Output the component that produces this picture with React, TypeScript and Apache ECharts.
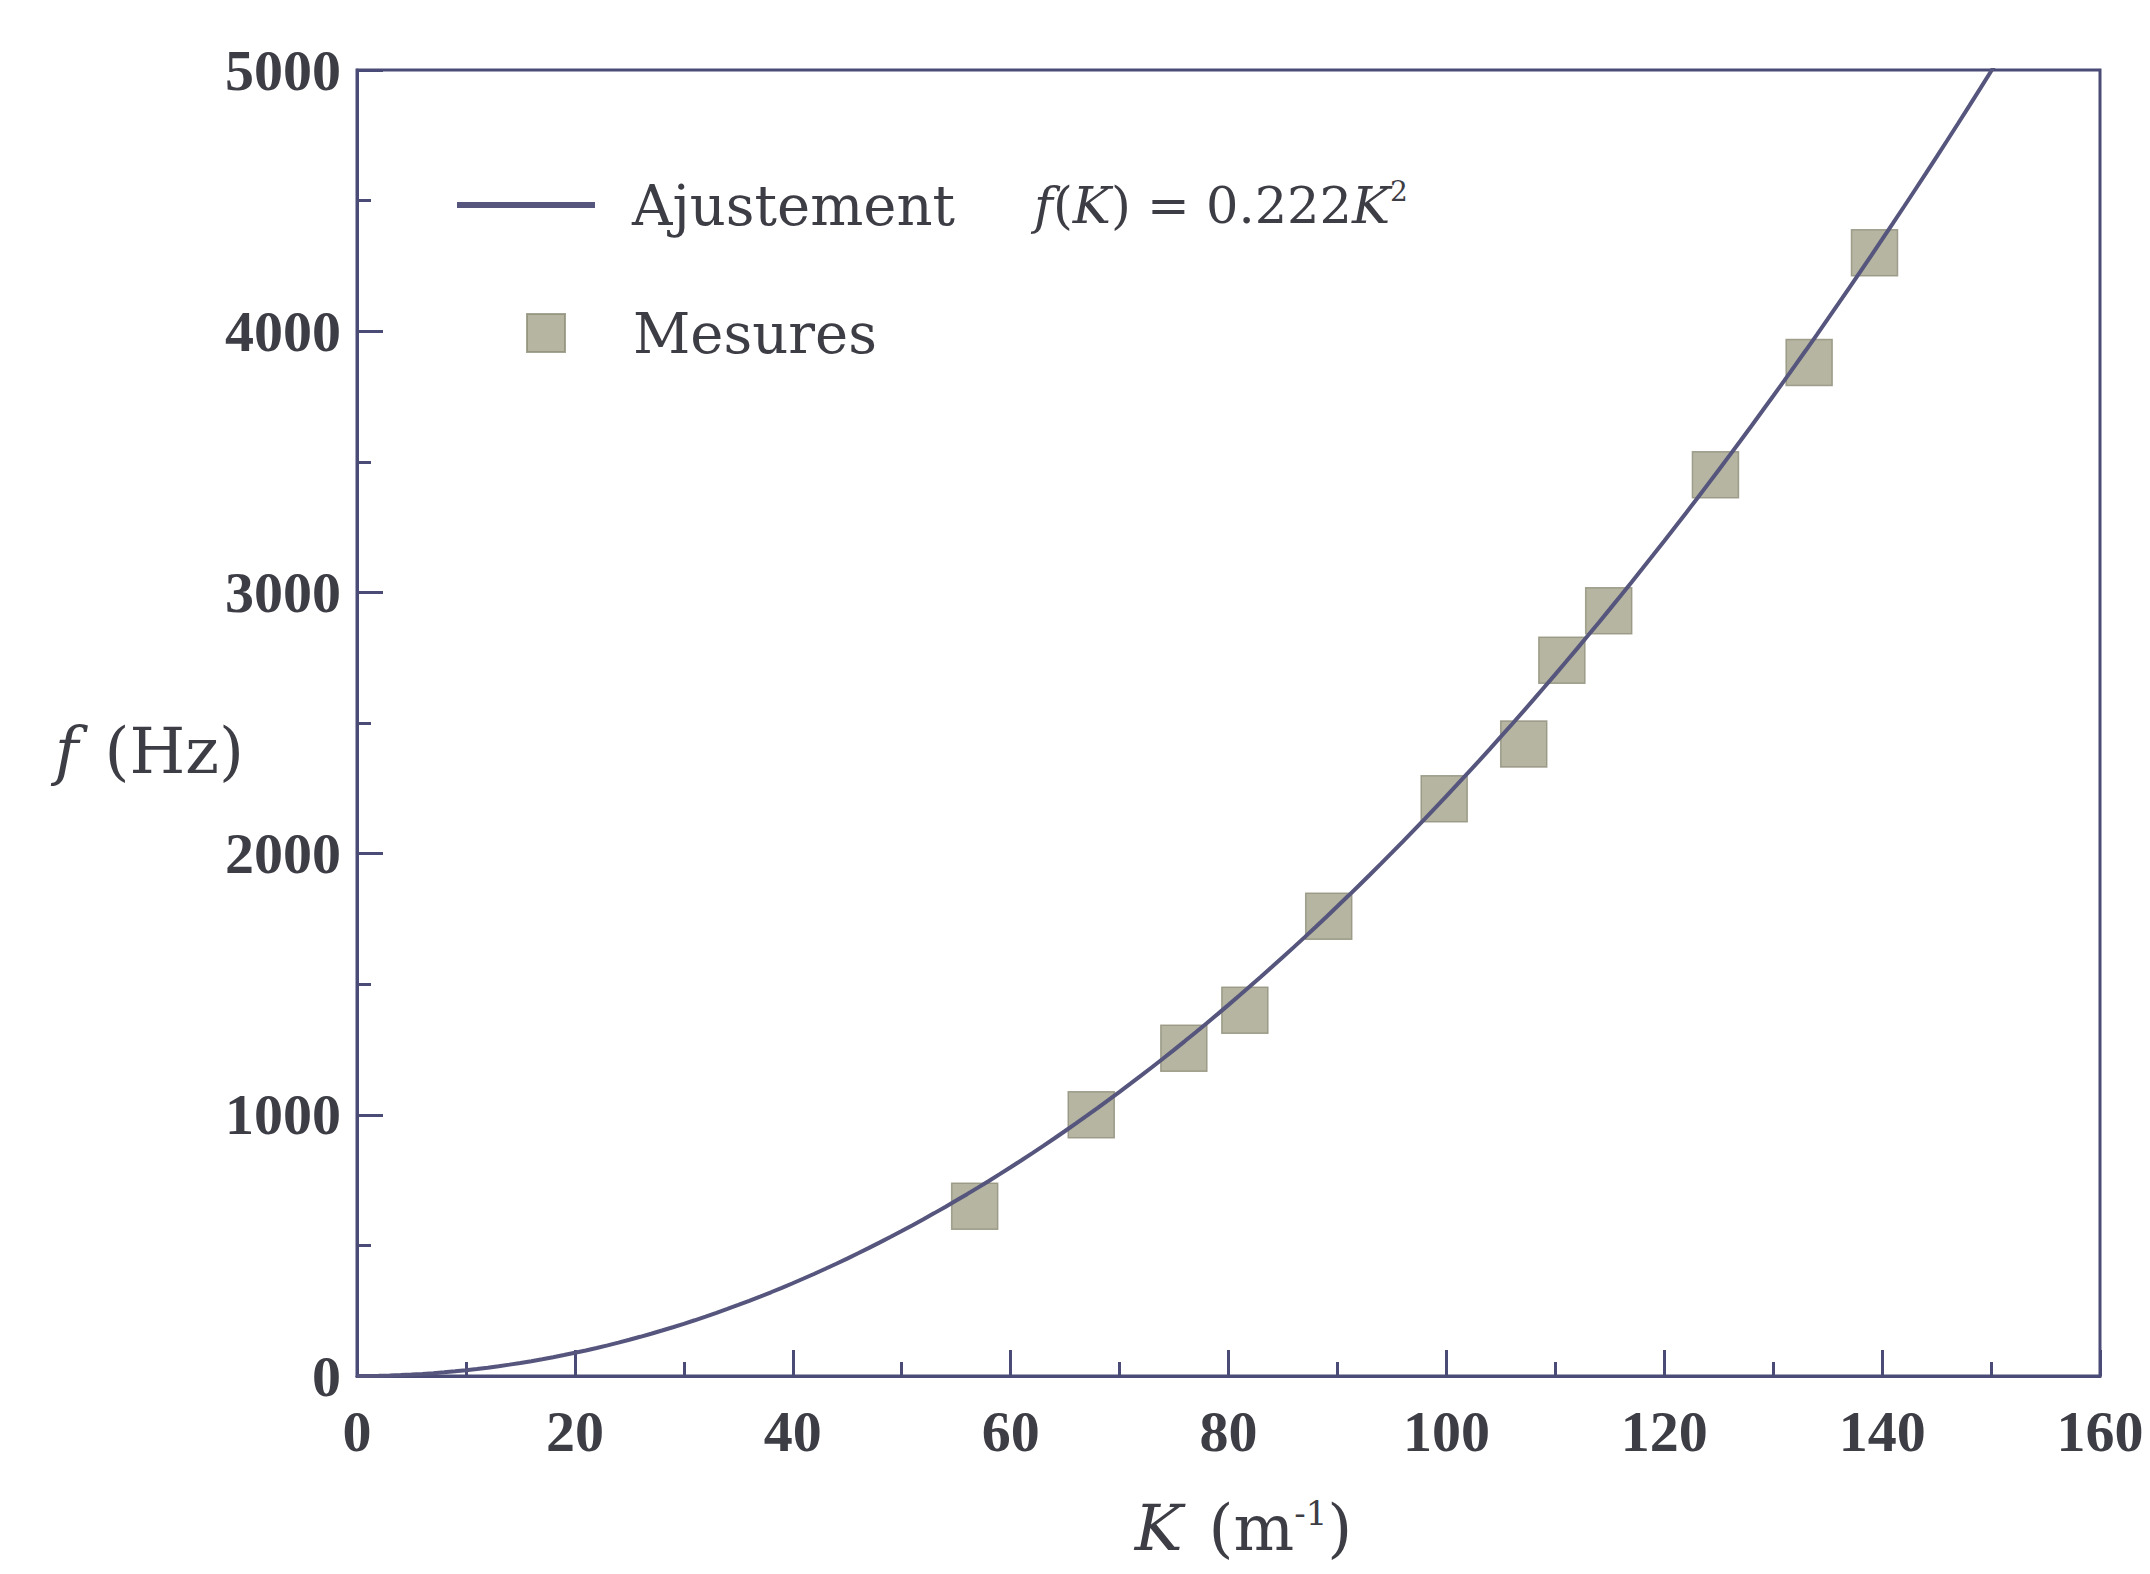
import React, { useEffect, useRef } from "react";
import * as echarts from "echarts";

// Measured points (K in m^-1, f in Hz)
const measK = [56.7, 67.4, 75.9, 81.5, 89.2, 99.8, 107.1, 110.6, 114.9, 124.7, 133.3, 139.3];
const measF = [650, 1000, 1255, 1400, 1760, 2210, 2420, 2740, 2930, 3450, 3880, 4300];

// Fit f(K) = 0.222 K^2 (coefficient printed in the legend)
const fitCoefficient = 0.222;
const fitKMax = 152;

const xTicks = { min: 0, max: 160, interval: 20 };
const yTicks = { min: 0, max: 5000, interval: 1000 };

const AXIS_COLOR = "#4b4b78";
const CURVE_COLOR = "#55557d";
const MARKER_COLOR = "#a3a38b";
const TEXT_COLOR = "#3d3d45";

export default function App() {
  const ref = useRef<HTMLDivElement>(null);

  useEffect(() => {
    if (!ref.current) return;
    const chart = echarts.init(ref.current, undefined, { renderer: "svg" });

    const fitData: number[][] = [];
    for (let k = 0; k <= fitKMax; k += 1) {
      fitData.push([k, fitCoefficient * k * k]);
    }
    const measData = measK.map((k, i) => [k, measF[i]]);

    const tickLabel = {
      fontFamily: "Liberation Serif",
      fontWeight: "bold" as const,
      fontSize: 58,
      color: TEXT_COLOR,
      formatter: (v: number) => String(v),
    };

    chart.setOption({
      animation: false,
      backgroundColor: "#ffffff",
      grid: {
        left: 357,
        right: 50,
        top: 70,
        bottom: 198,
        show: true,
        borderColor: AXIS_COLOR,
        borderWidth: 3,
        backgroundColor: "transparent",
      },
      legend: [
        {
          data: [{ name: "Ajustement", icon: "rect" }],
          orient: "vertical",
          left: 452,
          top: 172,
          itemWidth: 138,
          itemHeight: 6,
          formatter: () =>
            "{a|Ajustement}{fi|f}{n|(}{ki|K}{n|) = 0.222}{ki|K}{s|2}",
          textStyle: {
            padding: [0, 0, 0, 32],
            rich: {
              a: { fontFamily: "DejaVu Serif", fontSize: 56, color: TEXT_COLOR, padding: [0, 79, 0, 0] },
              fi: { fontFamily: "DejaVu Serif", fontStyle: "italic", fontSize: 51, color: TEXT_COLOR },
              ki: { fontFamily: "DejaVu Serif", fontStyle: "italic", fontSize: 51, color: TEXT_COLOR },
              n: { fontFamily: "DejaVu Serif", fontSize: 51, color: TEXT_COLOR },
              s: { fontFamily: "DejaVu Serif", fontSize: 28, color: TEXT_COLOR, verticalAlign: "top", padding: [0, 0, 26, 0] },
            },
          },
          itemStyle: { color: CURVE_COLOR },
        },
        {
          data: [{ name: "Mesures", icon: "rect" }],
          orient: "vertical",
          left: 521,
          top: 300,
          itemWidth: 38,
          itemHeight: 38,
          textStyle: {
            fontFamily: "DejaVu Serif",
            fontSize: 56,
            color: TEXT_COLOR,
            padding: [0, 0, 0, 63],
          },
          itemStyle: { color: MARKER_COLOR },
        },
      ],
      xAxis: {
        type: "value",
        min: xTicks.min,
        max: xTicks.max,
        interval: xTicks.interval,
        name: "{i|K}{p|(m}{s|-1}{n|)}",
        nameLocation: "middle",
        nameGap: 120,
        nameTextStyle: {
          padding: [0, 0, 0, 30],
          rich: {
            i: { fontFamily: "DejaVu Serif", fontStyle: "italic", fontSize: 64, color: TEXT_COLOR },
            p: { fontFamily: "DejaVu Serif", fontSize: 64, color: TEXT_COLOR, padding: [0, 0, 0, 26] },
            n: { fontFamily: "DejaVu Serif", fontSize: 64, color: TEXT_COLOR },
            s: { fontFamily: "DejaVu Serif", fontSize: 34, color: TEXT_COLOR, verticalAlign: "top" },
          },
        },
        axisLine: { show: true, onZero: false, lineStyle: { color: AXIS_COLOR, width: 3 } },
        axisTick: { show: true, inside: true, length: 26, lineStyle: { color: AXIS_COLOR, width: 3 } },
        minorTick: { show: true, splitNumber: 2, length: 14, lineStyle: { color: AXIS_COLOR, width: 3 } },
        axisLabel: { ...tickLabel, margin: 26 },
        splitLine: { show: false },
        minorSplitLine: { show: false },
      },
      yAxis: {
        type: "value",
        min: yTicks.min,
        max: yTicks.max,
        interval: yTicks.interval,
        name: "{i|f}{n|(Hz)}",
        nameLocation: "middle",
        nameRotate: 0,
        nameGap: 113,
        nameMoveOverlap: false,
        nameTextStyle: {
          padding: [56, 0, 0, 0],
          rich: {
            i: { fontFamily: "DejaVu Serif", fontStyle: "italic", fontSize: 64, color: TEXT_COLOR },
            n: { fontFamily: "DejaVu Serif", fontSize: 64, color: TEXT_COLOR, padding: [0, 0, 0, 26] },
          },
        },
        axisLine: { show: true, onZero: false, lineStyle: { color: AXIS_COLOR, width: 3 } },
        axisTick: { show: true, inside: true, length: 26, lineStyle: { color: AXIS_COLOR, width: 3 } },
        minorTick: { show: true, splitNumber: 2, length: 14, lineStyle: { color: AXIS_COLOR, width: 3 } },
        axisLabel: { ...tickLabel, margin: 16 },
        splitLine: { show: false },
        minorSplitLine: { show: false },
      },
      series: [
        {
          name: "Mesures",
          type: "scatter",
          data: measData,
          symbol: "rect",
          symbolSize: 46,
          z: 2,
          itemStyle: { color: MARKER_COLOR, borderColor: "#8f8f79", borderWidth: 1.5 },
        },
        {
          name: "Ajustement",
          type: "line",
          data: fitData,
          showSymbol: false,
          symbol: "none",
          smooth: false,
          clip: true,
          z: 3,
          lineStyle: { color: CURVE_COLOR, width: 4 },
          itemStyle: { color: CURVE_COLOR },
        },
      ],
    });

    return () => chart.dispose();
  }, []);

  return (
    <div
      ref={ref}
      style={{ position: "absolute", left: 0, top: 0, width: 2150, height: 1574 }}
    />
  );
}
